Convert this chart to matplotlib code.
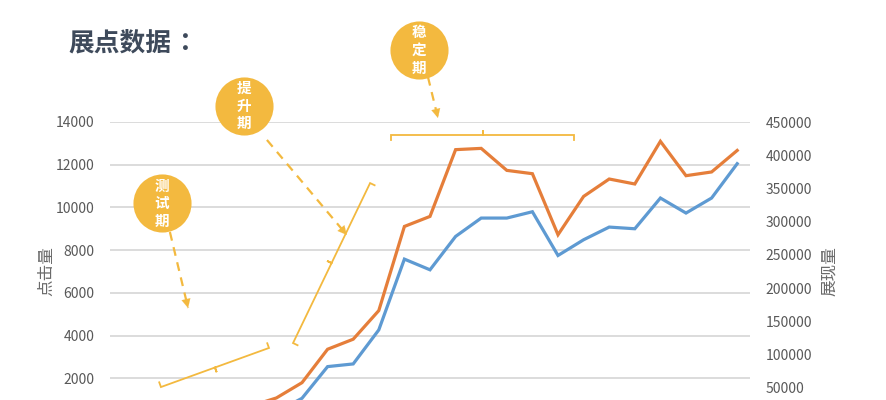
import numpy as np
import matplotlib
matplotlib.use("Agg")
import matplotlib.pyplot as plt

plt.rcParams['font.family'] = ['Noto Sans CJK SC', 'DejaVu Sans']

# ---- data ----
categories = [str(i + 1) for i in range(25)]
clicks = [120, 180, 220, 260, 300, 350, 420, 1064, 2547, 2672, 4266, 7580, 7079,
          8642, 9502, 9502, 9798, 7750, 8486, 9080, 9001, 10440, 9737, 10440, 12048]
impressions = [9600, 12200, 14500, 16700, 19300, 22500, 34700, 57700, 108000, 123100,
               166200, 292800, 307900, 408400, 410300, 377200, 372200, 280300, 338000,
               364200, 356700, 420900, 369200, 374800, 407200]
left_ticks = [2000, 4000, 6000, 8000, 10000, 12000, 14000]
right_ticks = [50000, 100000, 150000, 200000, 250000, 300000, 350000, 400000, 450000]
title = "展点数据"
title_colon = "："
left_label = "点击量"
right_label = "展现量"
phase_labels = ["测试期", "提升期", "稳定期"]

# ---- style ----
GOLD = '#F3B93F'
ORANGE = '#E57E3A'
BLUE = '#5E9AD2'
GRID = '#D9D9D9'
TXT = '#595959'

fig = plt.figure(figsize=(8.87, 4.0), dpi=100)
ax = fig.add_axes([110 / 887, -21 / 400, 640 / 887, 299 / 400])
ax2 = ax.twinx()

x = np.arange(len(categories))
ax.plot(x, clicks, color=BLUE, lw=2.3, solid_joinstyle='miter', zorder=3)
ax2.plot(x, impressions, color=ORANGE, lw=2.3, solid_joinstyle='miter', zorder=3)

ax.set_xlim(-0.5, len(categories) - 0.5)
ax.set_ylim(0, 14000)
ax2.set_ylim(0, 450000)
ax.set_yticks(left_ticks)
ax2.set_yticks(right_ticks)
ax.set_xticks([])
ax.yaxis.grid(True, color=GRID, lw=1.3)
ax.set_axisbelow(True)
for a in (ax, ax2):
    for s in a.spines.values():
        s.set_visible(False)
ax.tick_params(axis='y', length=0, pad=11, labelsize=10, labelcolor=TXT)
ax2.tick_params(axis='y', length=0, pad=11, labelsize=10, labelcolor=TXT)

ax.set_ylabel(left_label, fontsize=12, color='#6A6A6A')
ax.yaxis.set_label_coords(-0.086, 0.5)
ax2.set_ylabel(right_label, fontsize=12, color='#6A6A6A', rotation=90)
ax2.yaxis.set_label_coords(1.111, 0.5)

fig.text(68 / 887, 0.893, title, fontsize=18.5, fontweight='bold', color='#3E4A5B',
         va='center', ha='left')
fig.text(192 / 887, 0.893, title_colon, fontsize=18.5, fontweight='bold', color='#3E4A5B',
         va='center', ha='center')

# ---- annotations (positions in category / left-axis units) ----
circles = [(1.52, 10190), (4.73, 14760), (11.57, 17370)]
arrows = [((1.84, 8850), (2.55, 5290)),
          ((5.63, 13160), (8.75, 8710)),
          ((11.92, 16110), (12.31, 14190))]
brackets = [((1.49, 1590), (5.71, 3420), 1),
            ((6.65, 3650), (9.66, 11140), -1),
            ((10.48, 13390), (17.63, 13390), -1)]

for (cx, cy), lab in zip(circles, phase_labels):
    ax.scatter([cx], [cy], s=1750, color=GOLD, zorder=6, clip_on=False, lw=0)
    ax.text(cx, cy, "\n".join(lab), color='white', fontsize=10.5, fontweight='bold',
            ha='center', va='center', linespacing=1.12, zorder=7, clip_on=False)

for (p0, p1) in arrows:
    p0 = np.array(p0); p1 = np.array(p1)
    ax.plot([p0[0], p1[0]], [p0[1], p1[1]], color=GOLD, lw=1.6, ls=(0, (4, 3)),
            zorder=5, clip_on=False)
    q = p0 + (p1 - p0) * 0.88
    ax.annotate('', xy=tuple(p1), xytext=tuple(q),
                arrowprops=dict(arrowstyle='-|>', color=GOLD, lw=0.1,
                                mutation_scale=16, shrinkA=0, shrinkB=0),
                zorder=5, annotation_clip=False)

def draw_bracket(p0, p1, sign, tick=5.0):
    a = ax.transData.transform(p0)
    b = ax.transData.transform(p1)
    d = b - a
    n = np.array([-d[1], d[0]]) / np.hypot(*d)
    m = (a + b) / 2
    pts = np.array([a + n * tick * sign, a, m, m - n * tick * sign, m, b, b + n * tick * sign])
    dpts = ax.transData.inverted().transform(pts)
    ax.plot(dpts[:, 0], dpts[:, 1], color=GOLD, lw=1.3, zorder=4, clip_on=False,
            solid_joinstyle='miter')

for p0, p1, sgn in brackets:
    draw_bracket(p0, p1, sgn)

fig.savefig("out.png", dpi=100)
